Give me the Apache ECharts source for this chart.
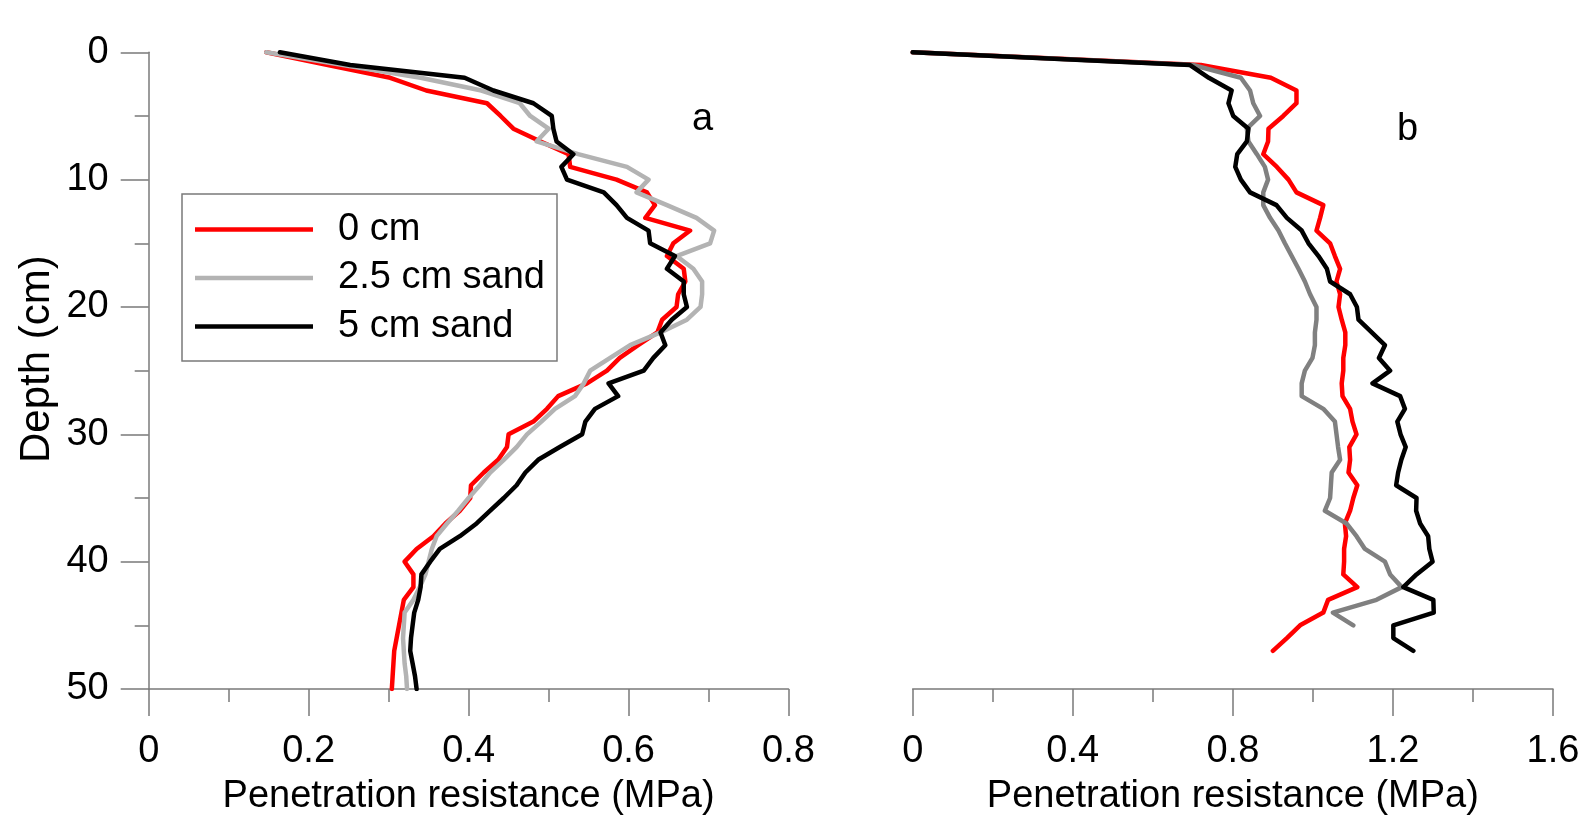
<!DOCTYPE html>
<html>
<head>
<meta charset="utf-8">
<script src="https://cdn.jsdelivr.net/npm/echarts@6/dist/echarts.min.js"></script>
<style>
html,body{margin:0;padding:0;background:#fff;}
#c{width:1586px;height:821px;}
</style>
</head>
<body>
<div id="c"></div>
<script>
// ---------- data ----------
const seriesNames = ['0 cm', '2.5 cm sand', '5 cm sand'];

const depthA = [0,1,2,3,4,5,6,7,8,9,10,11,12,13,14,15,16,17,18,19,20,21,22,23,24,25,26,27,28,29,30,31,32,33,34,35,36,37,38,39,40,41,42,43,44,45,46,47,48,49,50];
const a_0cm = [0.147,0.224,0.302,0.347,0.423,0.440,0.456,0.490,0.525,0.527,0.585,0.623,0.633,0.621,0.677,0.656,0.648,0.669,0.671,0.662,0.660,0.642,0.636,0.612,0.589,0.573,0.548,0.512,0.498,0.481,0.450,0.448,0.437,0.419,0.403,0.402,0.389,0.371,0.356,0.335,0.320,0.331,0.331,0.319,0.316,0.313,0.310,0.307,0.306,0.305,0.304];
const a_25cm = [0.147,0.243,0.340,0.416,0.464,0.477,0.500,0.485,0.537,0.598,0.625,0.610,0.648,0.685,0.707,0.702,0.660,0.681,0.692,0.692,0.690,0.673,0.640,0.602,0.577,0.552,0.544,0.533,0.508,0.491,0.473,0.460,0.444,0.427,0.414,0.400,0.387,0.373,0.360,0.354,0.350,0.346,0.339,0.331,0.320,0.319,0.318,0.319,0.320,0.322,0.323];
const a_5cm = [0.164,0.252,0.395,0.431,0.481,0.504,0.506,0.510,0.531,0.516,0.523,0.569,0.585,0.598,0.625,0.627,0.658,0.648,0.669,0.669,0.673,0.654,0.640,0.646,0.631,0.619,0.575,0.587,0.558,0.546,0.542,0.514,0.487,0.471,0.460,0.444,0.427,0.410,0.389,0.364,0.352,0.341,0.340,0.337,0.332,0.330,0.328,0.327,0.330,0.333,0.335];

const depthB = [0,1,2,3,4,5,6,7,8,9,10,11,12,13,14,15,16,17,18,19,20,21,22,23,24,25,26,27,28,29,30,31,32,33,34,35,36,37,38,39,40,41,42,43,44,45,46,47];
const b_0cm = [0,0.720,0.895,0.959,0.959,0.926,0.889,0.888,0.876,0.910,0.939,0.959,1.026,1.018,1.009,1.043,1.055,1.068,1.059,1.068,1.064,1.072,1.081,1.081,1.076,1.076,1.072,1.074,1.093,1.099,1.109,1.091,1.093,1.089,1.111,1.101,1.093,1.080,1.083,1.078,1.078,1.076,1.111,1.038,1.026,0.968,0.935,0.900];
const b_25cm = [0,0.700,0.820,0.843,0.851,0.868,0.835,0.839,0.860,0.880,0.888,0.876,0.876,0.893,0.914,0.930,0.947,0.964,0.980,0.993,1.009,1.009,1.005,1.005,0.999,0.980,0.972,0.972,1.026,1.055,1.059,1.063,1.068,1.047,1.045,1.043,1.030,1.084,1.109,1.130,1.180,1.193,1.222,1.159,1.050,1.101];
const b_5cm = [0,0.693,0.740,0.797,0.789,0.801,0.839,0.835,0.811,0.806,0.820,0.843,0.909,0.935,0.972,0.989,1.014,1.035,1.043,1.093,1.110,1.114,1.147,1.180,1.165,1.193,1.149,1.218,1.230,1.211,1.219,1.232,1.221,1.213,1.208,1.259,1.258,1.268,1.288,1.291,1.299,1.259,1.226,1.301,1.302,1.201,1.201,1.251];

const xTickLabelsA = ['0','0.2','0.4','0.6','0.8'];
const xTickLabelsB = ['0','0.4','0.8','1.2','1.6'];
const yTickLabels = ['0','10','20','30','40','50'];
const xAxisTitle = 'Penetration resistance (MPa)';
const yAxisTitle = 'Depth (cm)';
const panelLabels = ['a', 'b'];

// ---------- styles ----------
const FONT = 'Liberation Sans, Arial, sans-serif';
const FS = 38;
const AX = '#7a7a7a';
const LW = 4.5;
const colorsA = ['#ff0000', '#b3b3b3', '#000000'];
const colorsB = ['#ff0000', '#808080', '#000000'];

function pairs(xs, ys) { return ys.slice(0, xs.length).map((d, i) => [xs[i], d]); }

function lineSeries(name, data, color, xi, yi) {
  return {
    type: 'line', name: name, xAxisIndex: xi, yAxisIndex: yi,
    data: data, symbol: 'none', showSymbol: false,
    lineStyle: { color: color, width: LW, cap: 'round', join: 'round' },
    itemStyle: { color: color },
    animation: false, silent: true
  };
}

function xAxisDef(gi, max, interval, labels) {
  return {
    type: 'value', gridIndex: gi, min: 0, max: max, interval: interval,
    position: 'bottom',
    axisLine: { show: true, onZero: false, lineStyle: { color: AX, width: 1.5 } },
    axisTick: { show: true, length: 27, lineStyle: { color: AX, width: 1.5 } },
    minorTick: { show: true, splitNumber: 2, length: 13, lineStyle: { color: AX, width: 1.5 } },
    splitLine: { show: false }, minorSplitLine: { show: false },
    axisLabel: {
      margin: 44, fontSize: FS, fontFamily: FONT, color: '#000',
      showMinLabel: true, showMaxLabel: true,
      formatter: function (v) { return labels[Math.round(v / interval)] || ''; }
    },
    name: xAxisTitle, nameLocation: 'middle', nameGap: 89,
    nameTextStyle: { fontSize: FS, fontFamily: FONT, color: '#000' }
  };
}

const chart = echarts.init(document.getElementById('c'), null, { renderer: 'canvas' });
chart.setOption({
  backgroundColor: '#ffffff',
  animation: false,
  grid: [
    { left: 148.7, right: 797.5, top: 52.3, bottom: 127.7, containLabel: false },
    { left: 912.7, right: 33, top: 52.3, bottom: 127.7, containLabel: false }
  ],
  xAxis: [
    xAxisDef(0, 0.8, 0.2, xTickLabelsA),
    xAxisDef(1, 1.6, 0.4, xTickLabelsB)
  ],
  yAxis: [
    {
      type: 'value', gridIndex: 0, min: 0, max: 50, interval: 10, inverse: true,
      axisLine: { show: true, onZero: false, lineStyle: { color: AX, width: 1.5 } },
      axisTick: { show: true, length: 28, lineStyle: { color: AX, width: 1.5 } },
      minorTick: { show: true, splitNumber: 2, length: 14, lineStyle: { color: AX, width: 1.5 } },
      splitLine: { show: false }, minorSplitLine: { show: false },
      axisLabel: {
        margin: 40, fontSize: FS, fontFamily: FONT, color: '#000',
        showMinLabel: true, showMaxLabel: true,
        formatter: function (v) { return yTickLabels[Math.round(v / 10)] || ''; }
      },
      name: yAxisTitle, nameLocation: 'middle', nameGap: 90, nameRotate: 90,
      nameTextStyle: { fontSize: 42, fontFamily: FONT, color: '#000', padding: [0, 0, 0, 23] }
    },
    {
      type: 'value', gridIndex: 1, min: 0, max: 50, interval: 10, inverse: true,
      show: false
    }
  ],
  legend: {
    data: seriesNames.map(n => ({ name: n, icon: 'rect' })),
    orient: 'vertical', left: 182, top: 194,
    padding: [16.5, 12, 15.5, 13], itemGap: 10.5,
    itemWidth: 118, itemHeight: LW,
    borderColor: '#7a7a7a', borderWidth: 1.5, backgroundColor: '#ffffff',
    textStyle: { fontSize: FS, fontFamily: FONT, color: '#000', padding: [0, 0, 0, 20] },
    selectedMode: false
  },
  graphic: [
    { type: 'text', x: 702.5, y: 120, style: { text: panelLabels[0], font: FS + 'px ' + FONT, fill: '#000', align: 'center', verticalAlign: 'middle' } },
    { type: 'text', x: 1407.5, y: 130, style: { text: panelLabels[1], font: FS + 'px ' + FONT, fill: '#000', align: 'center', verticalAlign: 'middle' } }
  ],
  series: [
    lineSeries(seriesNames[0], pairs(a_0cm, depthA), colorsA[0], 0, 0),
    lineSeries(seriesNames[1], pairs(a_25cm, depthA), colorsA[1], 0, 0),
    lineSeries(seriesNames[2], pairs(a_5cm, depthA), colorsA[2], 0, 0),
    lineSeries(seriesNames[0], pairs(b_0cm, depthB), colorsB[0], 1, 1),
    lineSeries(seriesNames[1], pairs(b_25cm, depthB), colorsB[1], 1, 1),
    lineSeries(seriesNames[2], pairs(b_5cm, depthB), colorsB[2], 1, 1)
  ]
});
</script>
</body>
</html>
